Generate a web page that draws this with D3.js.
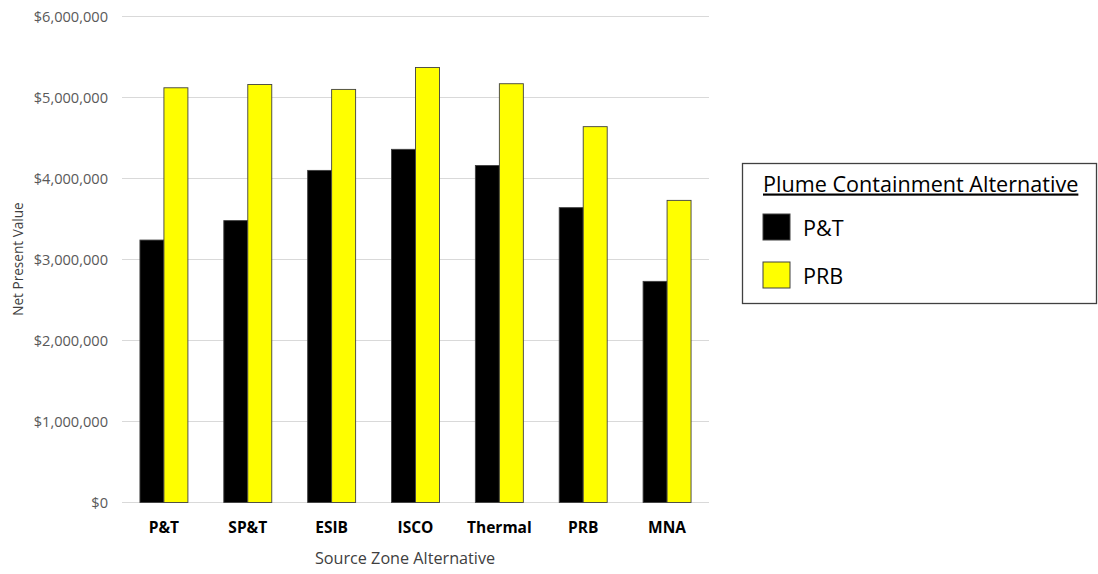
<!DOCTYPE html>
<html>
<head>
<meta charset="utf-8">
<script src="https://cdn.jsdelivr.net/npm/d3@7"></script>
<style>
  body { margin: 0; background: #fff; }
  svg { display: block; font-family: "Open Sans", sans-serif; }
</style>
</head>
<body>
<svg id="chart" width="1098" height="574"></svg>
<script>
// Source zone alternatives (x categories)
const categories = ["P&T", "SP&T", "ESIB", "ISCO", "Thermal", "PRB", "MNA"];
// Plume containment alternatives (series)
const seriesNames = ["P&T", "PRB"];
const seriesColors = ["#000000", "#ffff00"];
// Net present value per source zone alternative
const ptValues  = [3240000, 3480000, 4100000, 4360000, 4160000, 3640000, 2730000];
const prbValues = [5120000, 5160000, 5100000, 5370000, 5170000, 4640000, 3730000];
const yTicks = [0, 1000000, 2000000, 3000000, 4000000, 5000000, 6000000];

const svg = d3.select("#chart");
const plot = { left: 122, right: 709, top: 16.5, bottom: 502.5 };

const x0 = d3.scaleBand()
  .domain(categories)
  .range([plot.left, plot.right])
  .paddingInner(0.428)
  .paddingOuter(0.214);
const x1 = d3.scaleBand()
  .domain(seriesNames)
  .range([0, x0.bandwidth()]);
const y = d3.scaleLinear()
  .domain([0, 6000000])
  .range([plot.bottom, plot.top]);
const color = d3.scaleOrdinal().domain(seriesNames).range(seriesColors);

// Horizontal gridlines
svg.append("g")
  .selectAll("line")
  .data(yTicks)
  .join("line")
  .attr("x1", plot.left)
  .attr("x2", plot.right)
  .attr("y1", d => y(d))
  .attr("y2", d => y(d))
  .attr("stroke", "#d9d9d9")
  .attr("stroke-width", 1);

// Y axis labels
const fmt = d3.format("$,.0f");
const yAxis = svg.append("g")
  .attr("transform", `translate(${plot.left - 14},0)`)
  .call(d3.axisLeft(y).tickValues(yTicks).tickFormat(fmt).tickSize(0).tickPadding(0));
yAxis.select(".domain").remove();
yAxis.selectAll("text")
  .attr("fill", "#595959")
  .style("font-family", "'Open Sans', sans-serif")
  .style("font-size", "14.6px");

// Bars
const rows = categories.map((c, i) => ({ cat: c, values: [
  { key: "P&T", value: ptValues[i] },
  { key: "PRB", value: prbValues[i] }
]}));

const groups = svg.append("g")
  .selectAll("g")
  .data(rows)
  .join("g")
  .attr("transform", d => `translate(${x0(d.cat)},0)`);

groups.selectAll("rect")
  .data(d => d.values)
  .join("rect")
  .attr("x", d => x1(d.key))
  .attr("y", d => y(d.value))
  .attr("width", x1.bandwidth())
  .attr("height", d => y(0) - y(d.value))
  .attr("fill", d => color(d.key))
  .attr("stroke", "#404040")
  .attr("stroke-width", 0.9);

// X axis category labels
const xAxis = svg.append("g")
  .attr("transform", `translate(0,${plot.bottom})`)
  .call(d3.axisBottom(x0).tickSize(0).tickPadding(19));
xAxis.select(".domain").remove();
xAxis.selectAll("text")
  .attr("fill", "#000")
  .style("font-family", "'Open Sans', sans-serif")
  .style("font-size", "15.5px")
  .style("font-weight", "bold");

// Axis titles
svg.append("text")
  .attr("x", 405)
  .attr("y", 564)
  .attr("text-anchor", "middle")
  .attr("fill", "#404040")
  .style("font-size", "16.2px")
  .text("Source Zone Alternative");

svg.append("text")
  .attr("transform", "translate(23,259) rotate(-90)")
  .attr("text-anchor", "middle")
  .attr("fill", "#404040")
  .style("font-size", "13.6px")
  .text("Net Present Value");

// Legend
const legend = svg.append("g");
legend.append("rect")
  .attr("x", 742.5)
  .attr("y", 163.5)
  .attr("width", 354)
  .attr("height", 140)
  .attr("fill", "#fff")
  .attr("stroke", "#404040")
  .attr("stroke-width", 1.3);

legend.append("text")
  .attr("x", 763)
  .attr("y", 191.5)
  .attr("fill", "#000")
  .style("font-size", "21.6px")
  .style("text-decoration", "underline")
  .text("Plume Containment Alternative");

const legendItems = legend.selectAll("g.item")
  .data(seriesNames)
  .join("g")
  .attr("class", "item")
  .attr("transform", (d, i) => `translate(763,${214 + i * 48})`);

legendItems.append("rect")
  .attr("width", 27)
  .attr("height", 26)
  .attr("fill", d => color(d))
  .attr("stroke", "#404040")
  .attr("stroke-width", 1);

legendItems.append("text")
  .attr("x", 40)
  .attr("y", 21.5)
  .attr("fill", "#000")
  .style("font-size", "21.6px")
  .text(d => d);
</script>
</body>
</html>
